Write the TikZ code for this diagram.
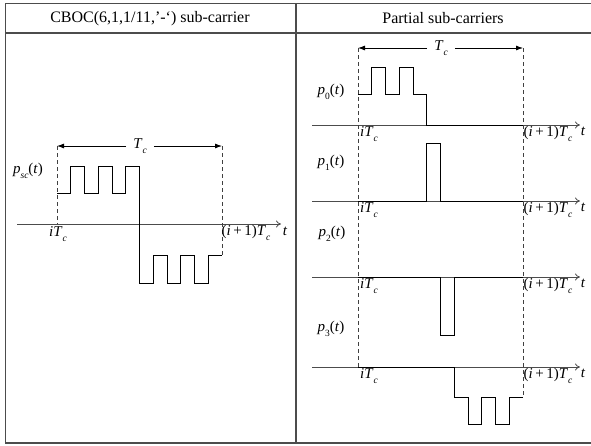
\documentclass[tikz,border=0pt]{standalone}
\usepackage{fontspec}
\setmainfont{Liberation Serif}
\usetikzlibrary{arrows.meta}
\newcommand\mysub[1]{\raisebox{-0.32em}{\fontsize{9.5}{10}\selectfont #1}}
\newcommand\myTc{\textit{T}\mysub{\textit{c}}}
\newcommand\myiTc{\textit{i}\myTc}
\newcommand\myipTc{(\textit{i}\,+\,1)\myTc}
\newcommand\mysig[1]{\textit{p}\mysub{#1}(\textit{t})}
\begin{document}
\begin{tikzpicture}[x=1pt,y=-1pt,
  every node/.style={font=\fontsize{15}{18}\selectfont, inner sep=1pt},
  frame/.style={draw=black!70, line width=1.3pt},
  axisln/.style={draw=black!70, line width=0.8pt, -{To[length=5pt,width=7pt]}},
  sig/.style={draw=black, line width=0.9pt},
  dashln/.style={draw=black!75, line width=0.8pt, dash pattern=on 4pt off 3pt},
  dim/.style={draw=black, line width=0.8pt, -{Latex[length=7pt,width=5pt]}},
  head/.style={font=\fontsize{16}{19}\selectfont},
  tclbl/.style={inner xsep=7pt, inner ysep=1pt}]
\useasboundingbox (0,0) rectangle (591,445);
% table frame
\coordinate (tl) at (5.5,3.5);
\coordinate (tr) at (591,3.5);
\coordinate (hl) at (5.5,33);
\coordinate (hr) at (591,33);
\coordinate (bl) at (5.5,443);
\coordinate (br) at (591,443);
\coordinate (dt) at (296,3.5);
\coordinate (db) at (296,443);
\draw[frame] (tr) -- (tl) -- (bl) -- (br);
\draw[frame] (hl) -- (hr);
\draw[frame] (dt) -- (db);
\node[head] (h1) at (150,18.5) {CBOC(6,1,1/11,’-‘) sub-carrier};
\node[head] (h2) at (443,18.5) {Partial sub-carriers};

% ---------- left panel ----------
\coordinate (la0) at (17,224);
\coordinate (la1) at (281,224);
\draw[axisln] (la0) -- (la1);
\coordinate (ld0t) at (57,146);
\coordinate (ld0b) at (57,224);
\coordinate (ld1t) at (222,146);
\coordinate (ld1b) at (222,255);
\draw[dashln] (ld0t) -- (ld0b);
\draw[dashln] (ld1t) -- (ld1b);
\node[tclbl] (ltc) at (140,146) {\myTc};
\draw[dim] (ltc) -- (ld0t);
\draw[dim] (ltc) -- (ld1t);
\draw[sig] (57,193) -- (70.75,193) -- (70.75,166) -- (84.5,166) -- (84.5,193)
  -- (98.25,193) -- (98.25,166) -- (112,166) -- (112,193) -- (125.75,193)
  -- (125.75,166) -- (139.5,166) -- (139.5,283) -- (153.25,283) -- (153.25,255)
  -- (167,255) -- (167,283) -- (180.75,283) -- (180.75,255) -- (194.5,255)
  -- (194.5,283) -- (208.25,283) -- (208.25,255) -- (222,255);
\node (lpsc) at (28,171) {\mysig{\textit{sc}}};
\node (liT) at (58,234) {\myiTc};
\node (lipT) at (246,233) {\myipTc};
\node (lt) at (285,231) {\textit{t}};

% ---------- right panel ----------
\coordinate (rd0t) at (358,48);
\coordinate (rd0b) at (358,367);
\coordinate (rd1t) at (523,48);
\coordinate (rd1b) at (523,397);
\node[tclbl] (rtc) at (441,48) {\myTc};
\draw[dim] (rtc) -- (rd0t);
\draw[dim] (rtc) -- (rd1t);
% axes
\foreach \n/\y in {0/125,1/201,2/277,3/367}{
  \coordinate (ra\n s) at (312,\y);
  \coordinate (ra\n e) at (580,\y);
  \draw[axisln] (ra\n s) -- (ra\n e);
  \node (riT\n) at (369,\y+9) {\myiTc};
  \node (ripT\n) at (548,\y+9) {\myipTc};
  \node (rt\n) at (583,\y+6) {\textit{t}};
}
\draw[dashln] (rd0t) -- (rd0b);
\draw[dashln] (rd1t) -- (rd1b);
% p0
\draw[sig] (358,94) -- (371.75,94) -- (371.75,67) -- (385.5,67) -- (385.5,94)
  -- (399.25,94) -- (399.25,67) -- (413,67) -- (413,94) -- (426.75,94)
  -- (426.75,125) -- (523,125);
% p1
\draw[sig] (358,201) -- (426.75,201) -- (426.75,143) -- (440.5,143) -- (440.5,201) -- (523,201);
% p2
\draw[sig] (358,277) -- (440.5,277) -- (440.5,335) -- (454.25,335) -- (454.25,277) -- (523,277);
% p3
\draw[sig] (358,367) -- (454.25,367) -- (454.25,397) -- (468,397) -- (468,424)
  -- (481.75,424) -- (481.75,397) -- (495.5,397) -- (495.5,424) -- (509.25,424)
  -- (509.25,397) -- (523,397);
\node (rp0) at (331,92) {\mysig{0}};
\node (rp1) at (331,163) {\mysig{1}};
\node (rp2) at (332,234) {\mysig{2}};
\node (rp3) at (331,329) {\mysig{3}};
\end{tikzpicture}
\end{document}
